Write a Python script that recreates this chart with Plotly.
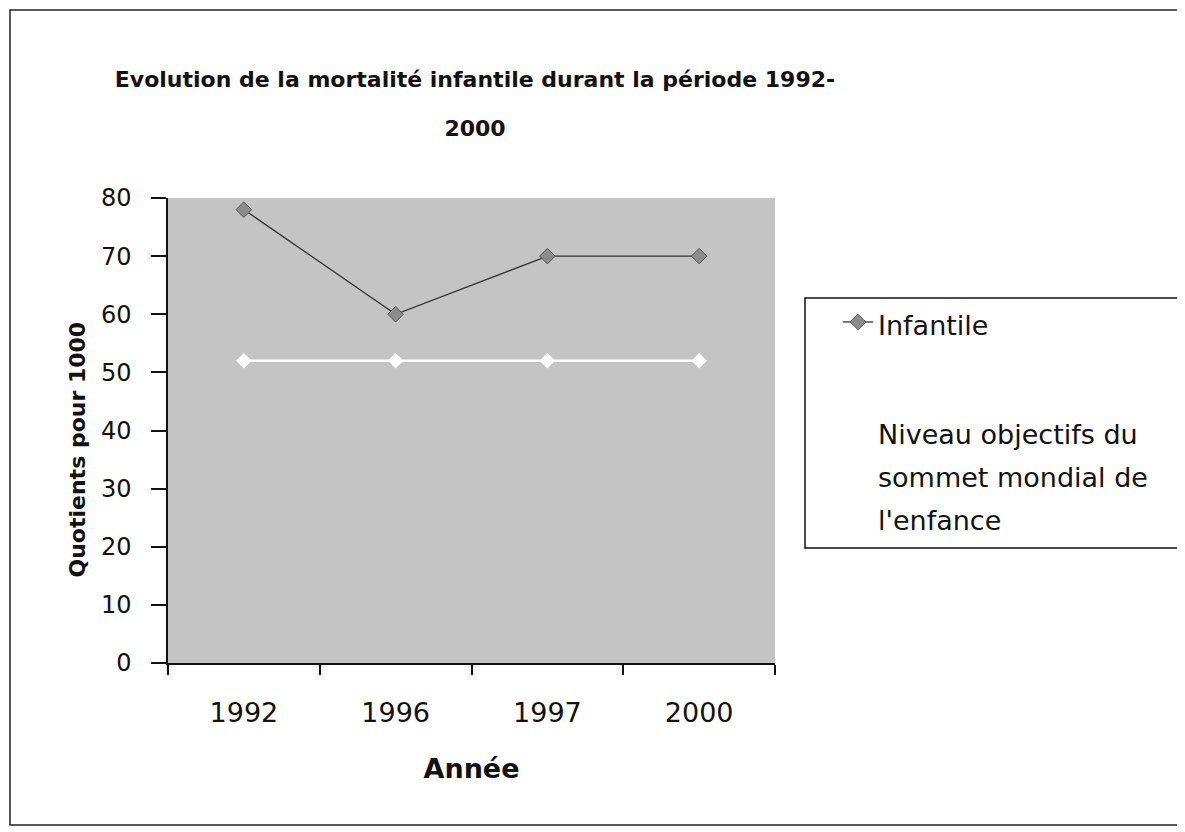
import plotly.graph_objects as go

years = ["1992", "1996", "1997", "2000"]
infantile = [78, 60, 70, 70]
objectif = [52, 52, 52, 52]
y_ticks = [0, 10, 20, 30, 40, 50, 60, 70, 80]

WIDE = "DejaVu Sans, Verdana, sans-serif"


def px(xs):
    return (xs - 168) / 607


def py(ys):
    return (663 - ys) / 465


def sized(text, size, bold=False):
    t = f"<b>{text}</b>" if bold else text
    return f"<span style='font-size:{size}px'>{t}</span>"


fig = go.Figure()
fig.add_trace(go.Scatter(
    x=years, y=infantile, name=sized("Infantile", 27), mode="lines+markers",
    line=dict(color="#333333", width=1.3),
    marker=dict(symbol="diamond", size=12, color="#8c8c8c", line=dict(color="#555555", width=1)),
    legendgroup="a",
))
fig.add_trace(go.Scatter(
    x=years, y=objectif,
    name="<br>".join(sized(s, 27) for s in ["Niveau objectifs du", "sommet mondial de", "l'enfance"]),
    mode="lines+markers",
    line=dict(color="white", width=2.5),
    marker=dict(symbol="diamond", size=12, color="white"),
    legendgroup="b",
))

fig.update_layout(
    width=1185, height=832,
    margin=dict(l=160, r=418, t=190, b=177),
    paper_bgcolor="white",
    plot_bgcolor="#c4c4c4",
    font=dict(family=WIDE, size=19, color="#111111"),
    title=dict(
        text=sized("Evolution de la mortalité infantile durant la période 1992-", 22, True)
        + "<br>" + sized("2000", 22, True),
        x=(475 - 8) / 1185, xanchor="center", y=1 - (87 - 8) / 832, yanchor="middle",
        font=dict(family=WIDE, size=38, color="#111111"),
    ),
    showlegend=True,
    legend=dict(
        x=px(838), xanchor="left",
        y=py(294), yanchor="top",
        bgcolor="rgba(0,0,0,0)", borderwidth=0,
        font=dict(family=WIDE, size=33, color="#111111"),
        tracegroupgap=63,
    ),
)
fig.update_xaxes(
    type="category", range=[-0.5, 3.5],
    tickson="boundaries", ticks="outside", ticklen=10, tickcolor="#111111", tickwidth=1.5,
    showline=True, linecolor="#111111", linewidth=1.5,
    showgrid=False, zeroline=False,
    tickfont=dict(family=WIDE, size=27),
    ticklabelstandoff=25,
    title=dict(text="<b>Année</b>", font=dict(family=WIDE, size=27), standoff=32),
)
fig.update_yaxes(
    range=[0, 80], tickvals=y_ticks,
    ticks="outside", ticklen=15, tickcolor="#111111", tickwidth=1.5,
    showline=True, linecolor="#111111", linewidth=1.5,
    showgrid=False, zeroline=False,
    tickfont=dict(family=WIDE, size=24),
    ticklabelstandoff=15,
)
# y-axis title, placed slightly below the axis midpoint as in the reference
fig.add_annotation(text="<b>Quotients pour 1000</b>", xref="paper", yref="paper",
                   x=px(62), y=py(450), showarrow=False, textangle=-90,
                   font=dict(family=WIDE, size=22, color="#111111"))
# outer frame
fig.add_shape(type="rect", xref="paper", yref="paper",
              x0=px(10), x1=px(1180), y0=py(825), y1=py(10),
              line=dict(color="#222222", width=1.5), fillcolor="rgba(0,0,0,0)", layer="below")
# legend frame
fig.add_shape(type="rect", xref="paper", yref="paper",
              x0=px(805), x1=px(1181), y0=py(548), y1=py(298),
              line=dict(color="#111111", width=1.5), fillcolor="white", layer="below")

fig.write_html("out.html")
